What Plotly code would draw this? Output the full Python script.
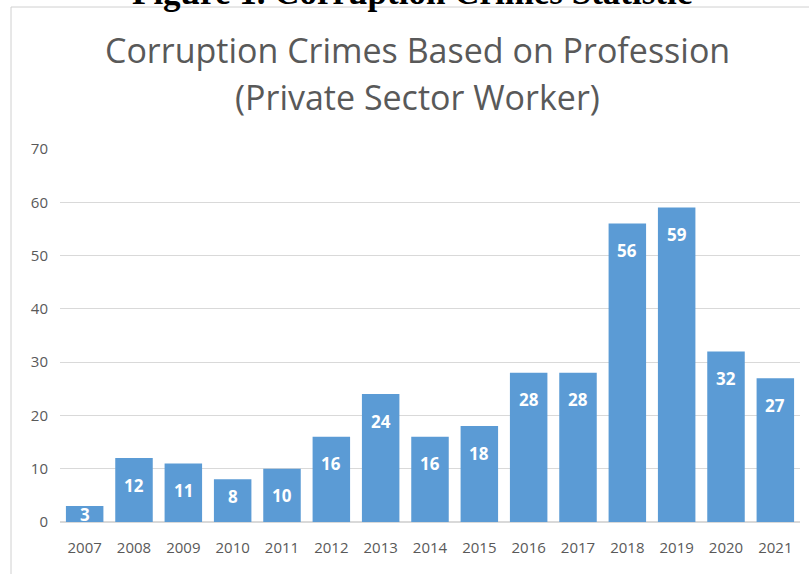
import plotly.graph_objects as go

years = ["2007", "2008", "2009", "2010", "2011", "2012", "2013", "2014",
         "2015", "2016", "2017", "2018", "2019", "2020", "2021"]
cases = [3, 12, 11, 8, 10, 16, 24, 16, 18, 28, 28, 56, 59, 32, 27]

W, H = 809, 574
L, R, T, B = 60, 9, 149, 52
pw, ph = W - L - R, H - T - B
YMAX = 70
ppu = ph / YMAX  # pixels per unit


def px(x):
    return (x - L) / pw


def py(y):
    return (H - B - y) / ph


fig = go.Figure(go.Bar(
    x=years, y=cases,
    marker=dict(color="#5B9BD5", line=dict(width=0)),
    hoverinfo="x+y",
))

annotations = []
for i, v in enumerate(cases):
    h = v * ppu
    shift = min(27, h - 25) if h >= 40 else h / 2
    annotations.append(dict(
        text=f"<b>{v}</b>", x=i, y=v, xref="x", yref="y",
        xanchor="center", yanchor="middle", yshift=-shift, showarrow=False,
        font=dict(size=17, color="white", family="Open Sans")))

annotations += [
    dict(text="Corruption Crimes Based on Profession", xref="paper", yref="paper",
         x=px(417), y=py(50), xanchor="center", yanchor="middle", showarrow=False,
         font=dict(size=34, color="#595959", family="Open Sans")),
    dict(text="(Private Sector Worker)", xref="paper", yref="paper",
         x=px(417), y=py(97), xanchor="center", yanchor="middle", showarrow=False,
         font=dict(size=34, color="#595959", family="Open Sans")),
    dict(text="<b>Figure 1. Corruption Crimes Statistic</b>", xref="paper", yref="paper",
         x=px(412), y=py(14), xanchor="center", yanchor="bottom", showarrow=False,
         font=dict(size=35, color="black", family="Liberation Serif")),
]

fig.update_layout(
    width=W, height=H,
    margin=dict(l=L, r=R, t=T, b=B),
    paper_bgcolor="white", plot_bgcolor="white",
    bargap=0.24, showlegend=False,
    font=dict(family="Open Sans", color="#595959"),
    xaxis=dict(type="category", range=[-0.5, len(years) - 0.5], showgrid=False,
               showline=True, linecolor="#d9d9d9",
               linewidth=1, ticks="outside", ticklen=12, tickcolor="rgba(0,0,0,0)",
               tickfont=dict(size=15, color="#595959")),
    yaxis=dict(range=[0, YMAX], dtick=10, showgrid=True, gridcolor="#d9d9d9",
               gridwidth=1, zeroline=True, zerolinecolor="#d9d9d9", showline=False,
               tickfont=dict(size=15, color="#595959"), ticks="outside",
               ticklen=8, tickcolor="rgba(0,0,0,0)"),
    annotations=annotations,
    shapes=[
        dict(type="line", xref="paper", yref="paper", x0=px(11), x1=px(809), y0=py(7), y1=py(7),
             line=dict(color="#d0d0d0", width=1)),
        dict(type="line", xref="paper", yref="paper", x0=px(11), x1=px(11), y0=py(7), y1=py(574),
             line=dict(color="#d0d0d0", width=1)),
    ],
)

fig.write_html("out.html")
